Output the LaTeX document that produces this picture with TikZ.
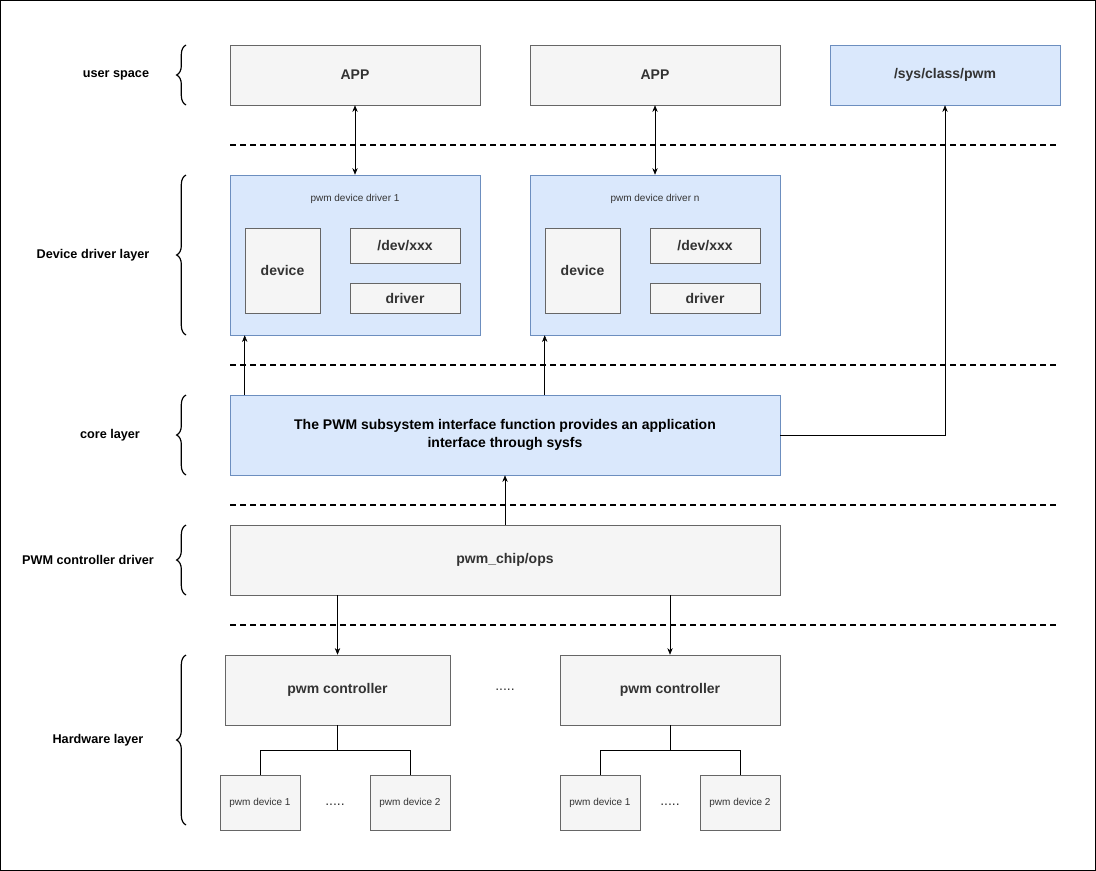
\documentclass[tikz,border=0pt]{standalone}
\usepackage{fontspec}
\setmainfont{Liberation Sans}
\usetikzlibrary{arrows.meta, positioning, decorations.pathreplacing}
\definecolor{grayfill}{HTML}{F5F5F5}
\definecolor{graystroke}{HTML}{666666}
\definecolor{bluefill}{HTML}{DAE8FC}
\definecolor{bluestroke}{HTML}{6C8EBF}

\begin{document}
\begin{tikzpicture}[
    x=0.75pt, y=-0.75pt,
    every node/.style={font=\bfseries\fontsize{10.5}{13}\selectfont, text=black!80},
    graybox/.style={draw=graystroke, fill=grayfill, inner sep=0pt},
    bluebox/.style={draw=bluestroke, fill=bluefill, inner sep=0pt},
    smalltext/.style={font=\fontsize{7.5}{9}\selectfont},
    layer/.style={font=\bfseries\fontsize{9.5}{11}\selectfont, text=black},
    sep/.style={dashed, line width=1.1pt, dash pattern=on 4.5pt off 3pt},
    lbrace/.style={decorate, decoration={brace, amplitude=7pt}, line width=0.9pt},
    arr/.style={-{Stealth[length=5pt, width=4pt]}},
    barr/.style={{Stealth[length=5pt, width=4pt]}-{Stealth[length=5pt, width=4pt]}}
]
    \useasboundingbox (0,0) rectangle (1096,871);
    \draw (0.5,0.5) rectangle (1095.5,870.5);

    % layer labels and braces
    \node[layer] (lus) at (116,75) {user space};
    \node[layer] (ldd) at (93,255) {Device driver layer};
    \node[layer] (lcore) at (110,435) {core layer};
    \node[layer] (lpwm) at (88,560) {PWM controller driver};
    \node[layer] (lhw) at (98,740) {Hardware layer};
    \draw[lbrace] (186,105) -- (186,45);
    \draw[lbrace] (186,335) -- (186,175);
    \draw[lbrace] (186,475) -- (186,395);
    \draw[lbrace] (186,595) -- (186,525);
    \draw[lbrace] (186,825) -- (186,655);

    % separators
    \foreach \yy in {145,365,505,625}
        \draw[sep] (230,\yy) -- (1060,\yy);

    % user space
    \node[graybox, minimum width=187.5pt, minimum height=45pt] (app1) at (355,75) {APP};
    \node[graybox, minimum width=187.5pt, minimum height=45pt] (app2) at (655,75) {APP};
    \node[bluebox, minimum width=172.5pt, minimum height=45pt] (sys) at (945,75) {/sys/class/pwm};

    % device drivers
    \foreach \n/\xx/\lbl in {1/0/1, n/300/n} {
        \node[bluebox, minimum width=187.5pt, minimum height=120pt] (drv\n) at (355+\xx,255) {};
        \node[smalltext] (drvt\n) at (355+\xx,199) {pwm device driver \lbl};
        \node[graybox, minimum width=56.25pt, minimum height=63.75pt] (dev\n) at (282.5+\xx,270.5) {device};
        \node[graybox, minimum width=82.5pt, minimum height=26.25pt] (node\n) at (405+\xx,245.5) {/dev/xxx};
        \node[graybox, minimum width=82.5pt, minimum height=22.5pt] (drvin\n) at (405+\xx,298) {driver};
    }

    % core
    \node[bluebox, minimum width=412.5pt, minimum height=60pt, align=center, text=black] (core) at (505,435)
        {The PWM subsystem interface function provides an application\\interface through sysfs};

    % controller driver
    \node[graybox, minimum width=412.5pt, minimum height=52.5pt] (chip) at (505,560) {pwm\_chip/ops};

    % hardware
    \node[graybox, minimum width=168.75pt, minimum height=52.5pt] (ctl1) at (337.5,690) {pwm controller};
    \node[graybox, minimum width=165pt, minimum height=52.5pt] (ctl2) at (670,690) {pwm controller};
    \node[font=\fontsize{10.5}{12}\selectfont] (dots) at (505,690) {.....};
    \node[graybox, smalltext, minimum width=60pt, minimum height=41.25pt] (pd1) at (260,802.5) {pwm device 1};
    \node[graybox, smalltext, minimum width=60pt, minimum height=41.25pt] (pd2) at (410,802.5) {pwm device 2};
    \node[graybox, smalltext, minimum width=60pt, minimum height=41.25pt] (pd3) at (600,802.5) {pwm device 1};
    \node[graybox, smalltext, minimum width=60pt, minimum height=41.25pt] (pd4) at (740,802.5) {pwm device 2};
    \node[font=\fontsize{10.5}{12}\selectfont] (dots1) at (335,805) {.....};
    \node[font=\fontsize{10.5}{12}\selectfont] (dots2) at (670,805) {.....};

    % connectors
    \draw[barr] (app1.south) -- (drv1.north);
    \draw[barr] (app2.south) -- (drvn.north);
    \draw[arr] (core.north -| dev1.west) -- (drv1.south -| dev1.west);
    \draw[arr] (core.north -| devn.west) -- (drvn.south -| devn.west);
    \draw[arr] (core.east) -| (sys.south);
    \draw[arr] (chip.north) -- (core.south);
    \draw[arr] (chip.south -| ctl1) -- (ctl1.north);
    \draw[arr] (chip.south -| ctl2) -- (ctl2.north);
    \draw (ctl1.south) -- ++(0,25) coordinate (j1);
    \draw (pd1.north) |- (j1) -| (pd2.north);
    \draw (ctl2.south) -- ++(0,25) coordinate (j2);
    \draw (pd3.north) |- (j2) -| (pd4.north);
\end{tikzpicture}
\end{document}
